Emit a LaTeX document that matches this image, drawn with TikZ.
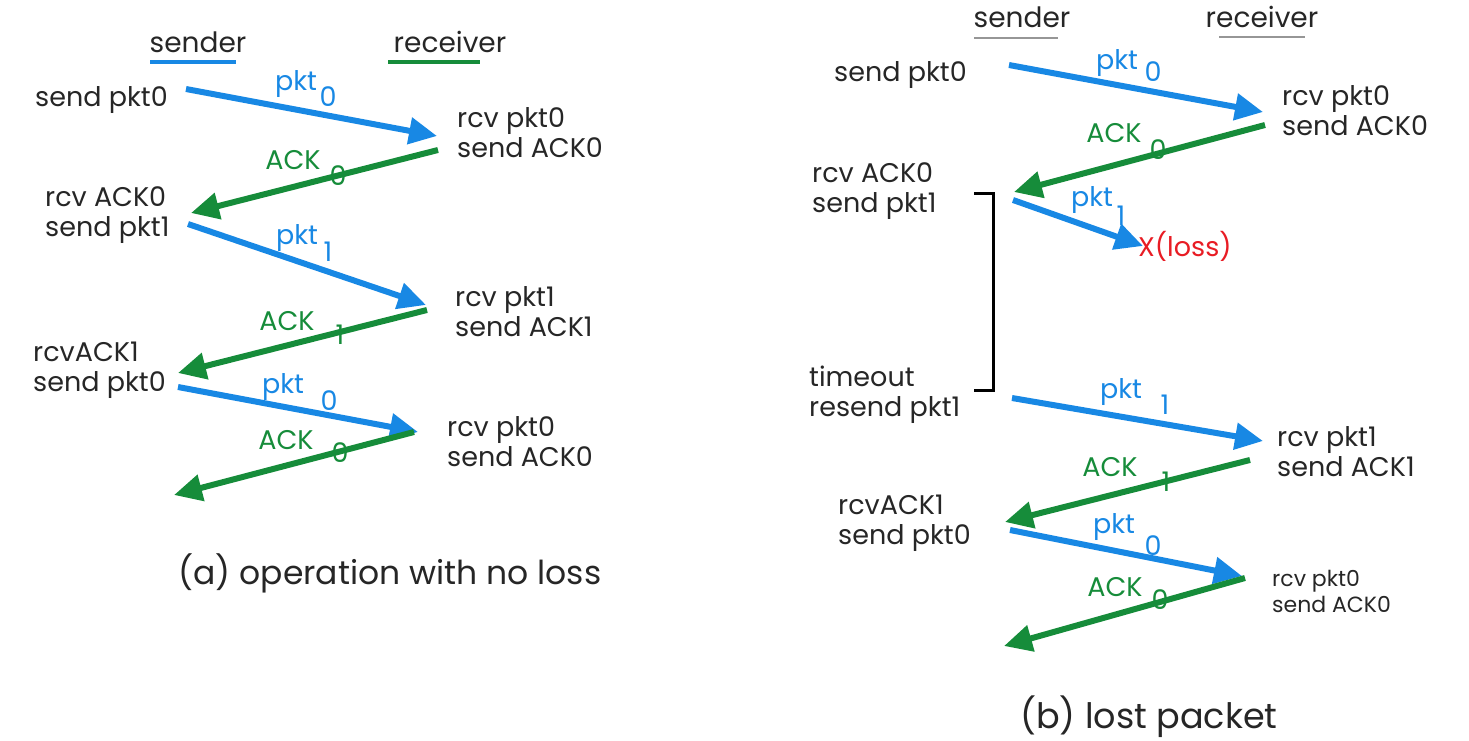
\documentclass[tikz,border=0pt]{standalone}
\usepackage{fontspec}
\setmainfont{Poppins}
\usetikzlibrary{arrows.meta}
\definecolor{ablue}{RGB}{24,136,228}
\definecolor{agreen}{RGB}{22,140,58}
\definecolor{ared}{RGB}{232,28,36}
\definecolor{uline}{RGB}{150,150,150}
\begin{document}
\begin{tikzpicture}[x=1pt,y=-1pt,
 txt/.style={anchor=west,align=left,font=\fontsize{27}{30}\selectfont,inner sep=0pt,text=black!85},
 smalltxt/.style={anchor=west,align=left,font=\fontsize{22}{26}\selectfont,inner sep=0pt,text=black!85},
 lbl/.style={font=\fontsize{27}{30}\selectfont,inner sep=0pt},
 hdr/.style={font=\fontsize{28}{30}\selectfont,inner sep=0pt,text=black!85},
 captxt/.style={inner sep=0pt,text=black!85},
 pktarr/.style={ablue,line width=6pt,-{Triangle[length=28pt,width=26pt]}},
 ackarr/.style={agreen,line width=6pt,-{Triangle[length=28pt,width=26pt]}},
 bluel/.style={lbl,text=ablue},
 greenl/.style={lbl,text=agreen}]
\useasboundingbox (0,0) rectangle (1469,741);

% ---------------- panel (a) ----------------
\node[hdr] (hsa) at (198,42) {sender};
\node[hdr] (hra) at (450,42) {receiver};
\draw[ablue,line width=4pt] (150,62) -- (236,62);
\draw[agreen,line width=4pt] (388,62) -- (480,62);

\node[txt] (a1) at (35,100) {send pkt0};
\node[txt] (a2) at (457,133) {rcv pkt0\\send ACK0};
\node[txt] (a3) at (45,215) {rcv ACK0\\send pkt1};
\node[txt] (a4) at (455,312) {rcv pkt1\\send ACK1};
\node[txt] (a5) at (33,370) {rcvACK1\\send pkt0};
\node[txt] (a6) at (447,442) {rcv pkt0\\send ACK0};

\coordinate (p1s) at (186,89);  \coordinate (p1e) at (437,136);
\coordinate (k1s) at (438,150); \coordinate (k1e) at (191,213);
\coordinate (p2s) at (188,224); \coordinate (p2e) at (426,305);
\coordinate (k2s) at (427,310); \coordinate (k2e) at (178,373);
\coordinate (p3s) at (178,387); \coordinate (p3e) at (418,432);
\coordinate (k3s) at (414,432); \coordinate (k3e) at (174,495);

\draw[pktarr] (p1s) -- (p1e);
\draw[ackarr] (k1s) -- (k1e);
\draw[pktarr] (p2s) -- (p2e);
\draw[ackarr] (k2s) -- (k2e);
\draw[pktarr] (p3s) -- (p3e);
\draw[ackarr] (k3s) -- (k3e);

\node[bluel] (lp1) at (296,84) {pkt};  \node[bluel] (lp1n) at (328,97) {0};
\node[greenl] (lk1) at (293,160) {ACK}; \node[greenl] (lk1n) at (338,176) {0};
\node[bluel] (lp2) at (297,238) {pkt};  \node[bluel] (lp2n) at (328,252) {1};
\node[greenl] (lk2) at (287,321) {ACK}; \node[greenl] (lk2n) at (340,335) {1};
\node[bluel] (lp3) at (283,387) {pkt};  \node[bluel] (lp3n) at (329,401) {0};
\node[greenl] (lk3) at (286,440) {ACK}; \node[greenl] (lk3n) at (340,453) {0};

\node[captxt,font=\fontsize{33}{36}\selectfont] (capa) at (390,573) {(a) operation with no loss};

% ---------------- panel (b) ----------------
\node[hdr] (hsb) at (1022,17) {sender};
\node[hdr] (hrb) at (1262,17) {receiver};
\draw[uline,line width=1.5pt] (974,38) -- (1058,38);
\draw[uline,line width=1.5pt] (1219,37) -- (1305,37);

\node[txt] (b1) at (834,75) {send pkt0};
\node[txt] (b2) at (1282,111) {rcv pkt0\\send ACK0};
\node[txt] (b3) at (812,191) {rcv ACK0\\send pkt1};
\node[txt] (b4) at (809,395) {timeout\\resend pkt1};
\node[txt] (b5) at (1277,452) {rcv pkt1\\send ACK1};
\node[txt] (b6) at (838,523) {rcvACK1\\send pkt0};
\node[smalltxt] (b7) at (1272,591) {rcv pkt0\\send ACK0};
\node[anchor=west,inner sep=0pt,font=\fontsize{27}{30}\selectfont,text=ared] (loss) at (1138,246) {X(loss)};

\draw[line width=3pt] (974,193) -- (993,193) -- (993,390) -- (974,390);

\coordinate (q1s) at (1009,65);  \coordinate (q1e) at (1263,112);
\coordinate (m1s) at (1265,125); \coordinate (m1e) at (1014,192);
\coordinate (q2s) at (1013,200); \coordinate (q2e) at (1143,246);
\coordinate (q3s) at (1012,398); \coordinate (q3e) at (1263,441);
\coordinate (m2s) at (1250,460); \coordinate (m2e) at (1005,522);
\coordinate (q4s) at (1010,530); \coordinate (q4e) at (1242,576);
\coordinate (m3s) at (1245,578); \coordinate (m3e) at (1004,646);

\draw[pktarr] (q1s) -- (q1e);
\draw[ackarr] (m1s) -- (m1e);
\draw[pktarr] (q2s) -- (q2e);
\draw[pktarr] (q3s) -- (q3e);
\draw[ackarr] (m2s) -- (m2e);
\draw[pktarr] (q4s) -- (q4e);
\draw[ackarr] (m3s) -- (m3e);

\node[bluel] (mp1) at (1117,63) {pkt};  \node[bluel] (mp1n) at (1153,72) {0};
\node[greenl] (mk1) at (1114,133) {ACK}; \node[greenl] (mk1n) at (1158,150) {0};
\node[bluel] (mp2) at (1092,200) {pkt};  \node[bluel] (mp2n) at (1121,216) {1};
\node[bluel] (mp3) at (1121,392) {pkt};  \node[bluel] (mp3n) at (1165,405) {1};
\node[greenl] (mk2) at (1110,467) {ACK}; \node[greenl] (mk2n) at (1166,482) {1};
\node[bluel] (mp4) at (1114,527) {pkt};  \node[bluel] (mp4n) at (1153,546) {0};
\node[greenl] (mk3) at (1115,587) {ACK}; \node[greenl] (mk3n) at (1160,600) {0};

\node[captxt,font=\fontsize{35}{38}\selectfont] (capb) at (1149,717) {(b) lost packet};
\end{tikzpicture}
\end{document}
